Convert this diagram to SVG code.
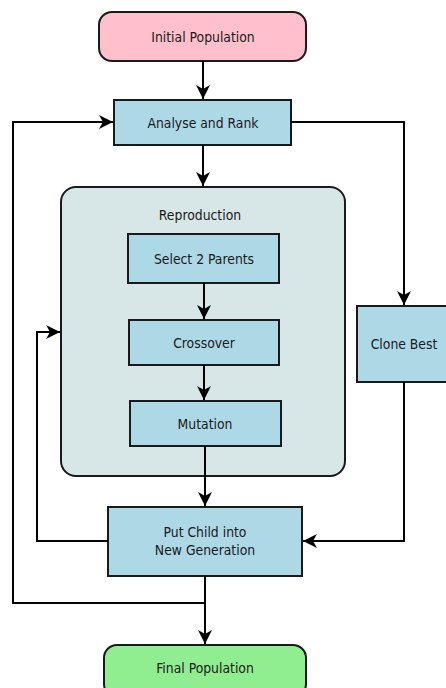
<svg xmlns="http://www.w3.org/2000/svg" width="446" height="688" viewBox="0 0 446 688">
<style>
.box{fill:#add8e6;stroke:#1a1a1a;stroke-width:2}
.t{font-family:"DejaVu Sans Condensed","DejaVu Sans",sans-serif;font-stretch:condensed;font-size:13.8px;fill:#1a1a1a;text-anchor:middle;dominant-baseline:central}
.c{fill:none;stroke:#000;stroke-width:2}
</style>
<defs>
<marker id="a" markerUnits="userSpaceOnUse" markerWidth="16" markerHeight="16" refX="14" refY="8" orient="auto">
<path d="M0,1 L14,8 L0,15 L4,8 Z" fill="#000"/>
</marker>
</defs>
<rect width="446" height="688" fill="#fff"/>
<g id="reproduction">
<rect x="61" y="187" width="284" height="289" rx="15" fill="#d7e6e6" stroke="#1a1a1a" stroke-width="2"/>
<text class="t" x="200" y="215">Reproduction</text>
</g>
<g id="initial">
<rect x="99" y="12" width="207" height="49" rx="13" fill="#ffc0cb" stroke="#1a1a1a" stroke-width="2"/>
<text class="t" x="203" y="37">Initial Population</text>
</g>
<g id="analyse">
<rect class="box" x="114" y="100" width="177" height="45"/>
<text class="t" x="203" y="123">Analyse and Rank</text>
</g>
<g id="select">
<rect class="box" x="128" y="234" width="151" height="49"/>
<text class="t" x="204" y="259">Select 2 Parents</text>
</g>
<g id="crossover">
<rect class="box" x="129" y="320" width="150" height="45"/>
<text class="t" x="204" y="343">Crossover</text>
</g>
<g id="mutation">
<rect class="box" x="130" y="401" width="151" height="45"/>
<text class="t" x="205" y="424">Mutation</text>
</g>
<g id="clone">
<rect class="box" x="357" y="306" width="95" height="76"/>
<text class="t" x="404" y="344">Clone Best</text>
</g>
<g id="putchild">
<rect class="box" x="108" y="507" width="194" height="69"/>
<text class="t" x="205" y="532">Put Child into</text>
<text class="t" x="205" y="550">New Generation</text>
</g>
<g id="final">
<rect x="104" y="645" width="202" height="52" rx="13" fill="#90ee90" stroke="#1a1a1a" stroke-width="2"/>
<text class="t" x="205" y="668">Final Population</text>
</g>
<g id="connectors">
<path class="c" d="M203,61 V99" marker-end="url(#a)"/>
<path class="c" d="M203,145 V186" marker-end="url(#a)"/>
<path class="c" d="M291,122 H404 V305" marker-end="url(#a)"/>
<path class="c" d="M204,283 V319" marker-end="url(#a)"/>
<path class="c" d="M204,365 V400" marker-end="url(#a)"/>
<path class="c" d="M205,446 V506" marker-end="url(#a)"/>
<path class="c" d="M404,382 V541 H303" marker-end="url(#a)"/>
<path class="c" d="M108,541 H37 V332 H60" marker-end="url(#a)"/>
<path class="c" d="M205,576 V644" marker-end="url(#a)"/>
<path class="c" d="M205,603 H13 V122 H113" marker-end="url(#a)"/>
</g>
</svg>
